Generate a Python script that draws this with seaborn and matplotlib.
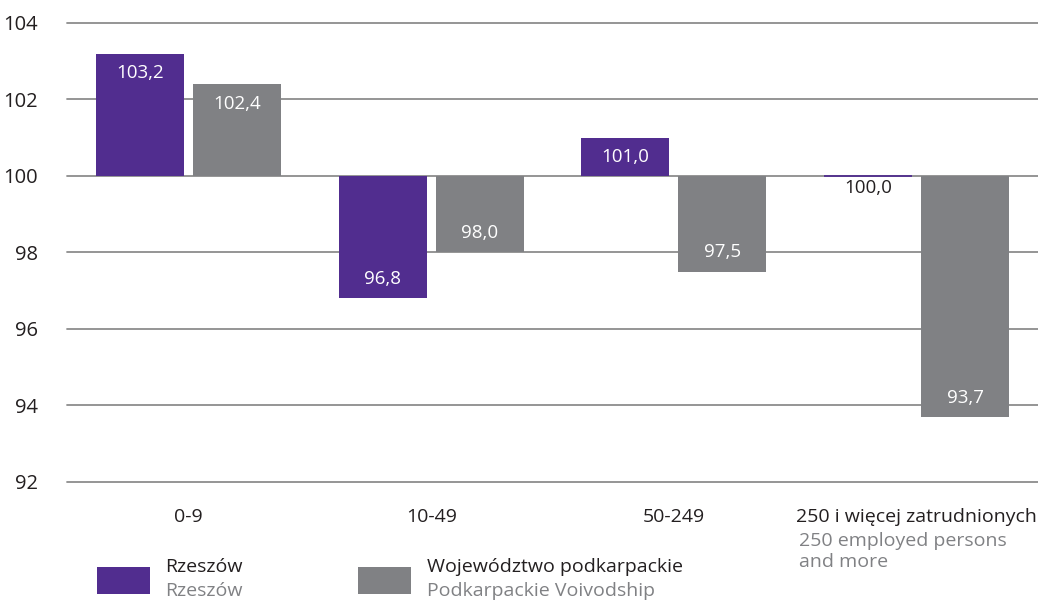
import numpy as np
import pandas as pd
import matplotlib
matplotlib.use("Agg")
import matplotlib.pyplot as plt
from matplotlib.patches import Rectangle
import seaborn as sns

categories = ["0-9", "10-49", "50-249", "250 i więcej zatrudnionych"]
category_subtitle = "250 employed persons\nand more"
series_names = ["Rzeszów", "Województwo podkarpackie"]
series_subtitles = ["Rzeszów", "Podkarpackie Voivodship"]
rzeszow = [103.2, 96.8, 101.0, 100.0]
podkarpackie = [102.4, 98.0, 97.5, 93.7]
yticks = [92, 94, 96, 98, 100, 102, 104]
base = 100

colors = ["#512d8f", "#808184"]
dark = "#231f20"
gray_txt = "#808184"

sns.set_theme(style="white")
plt.rcParams["font.family"] = ["Open Sans", "DejaVu Sans"]

df = pd.DataFrame({
    "category": categories * 2,
    "series": [series_names[0]] * 4 + [series_names[1]] * 4,
    "value": rzeszow + podkarpackie,
})
df["dev"] = df["value"] - base

fig = plt.figure(figsize=(10.38, 6.01), dpi=100)
ax = fig.add_axes([67 / 1038, 1 - 482 / 601, 1 - 67 / 1038, 459 / 601])

sns.barplot(data=df, x="category", y="dev", hue="series", order=categories,
            hue_order=series_names, palette=colors, saturation=1,
            width=0.8, gap=0.093, bottom=base, errorbar=None,
            legend=False, ax=ax, zorder=2, linewidth=0, edgecolor="none")

ax.set_xlim(-0.5, len(categories) - 0.5)
ax.set_ylim(yticks[0], yticks[-1])
ax.set_yticks(yticks)
ax.set_yticklabels([str(t) for t in yticks], fontsize=14.5, color=dark)
ax.set_xlabel("")
ax.set_ylabel("")
ax.yaxis.grid(True, color="#8c8c8c", linewidth=1.3)
ax.xaxis.grid(False)
ax.set_axisbelow(True)
for gl in ax.get_ygridlines():
    gl.set_clip_on(False)
for s in ax.spines.values():
    s.set_visible(False)
ax.tick_params(axis="y", length=0, pad=21)
ax.tick_params(axis="x", length=0, pad=19)
ax.set_xticks(range(len(categories)))
ax.set_xticklabels(categories, fontsize=14, color=dark)

# zero-height bar shown as thin line at the baseline, as in the reference
ax.axhline(base, xmin=0.75 + 0.5 * 0.0, xmax=0.75, color=colors[0], linewidth=0)

# value labels
for cont, vals in zip(ax.containers, [rzeszow, podkarpackie]):
    for patch, v in zip(cont.patches, vals):
        xc = patch.get_x() + patch.get_width() / 2
        txt = f"{v:.1f}".replace(".", ",")
        if v == base:
            x0 = patch.get_x()
            ax.plot([x0, x0 + patch.get_width()], [v, v], color=patch.get_facecolor(),
                    linewidth=1.3, zorder=3, solid_capstyle="butt")
        if v > base:
            ax.annotate(txt, (xc, v), xytext=(0, -14), textcoords="offset points",
                        ha="center", va="center", color="white", fontsize=13.5)
        elif v < base:
            ax.annotate(txt, (xc, v), xytext=(0, 14), textcoords="offset points",
                        ha="center", va="center", color="white", fontsize=13.5)
        else:
            ax.annotate(txt, (xc, v), xytext=(0, -9), textcoords="offset points",
                        ha="center", va="center", color=dark, fontsize=13.5)

# subtitle under last category label
fig.canvas.draw()
lab = ax.get_xticklabels()[-1]
bb = lab.get_window_extent()
sx = bb.x0 / fig.bbox.width + 3 / 1038
for line, ypx in zip(category_subtitle.split("\n"), [541, 562]):
    fig.text(sx, 1 - ypx / 601, line, ha="left", va="center", fontsize=14, color=gray_txt)

# legend
W, H = 1038, 601
leg = [(97, 165), (358, 427)]
for (px, tx), c, n, sub in zip(leg, colors, series_names, series_subtitles):
    fig.add_artist(Rectangle((px / W, 1 - 594 / H), 53 / W, 27 / H,
                             transform=fig.transFigure, color=c, linewidth=0))
    fig.text(tx / W, 1 - 567 / H, n, ha="left", va="center", fontsize=14, color=dark)
    fig.text(tx / W, 1 - 591 / H, sub, ha="left", va="center", fontsize=14, color=gray_txt)

fig.savefig("out.png", dpi=100)
